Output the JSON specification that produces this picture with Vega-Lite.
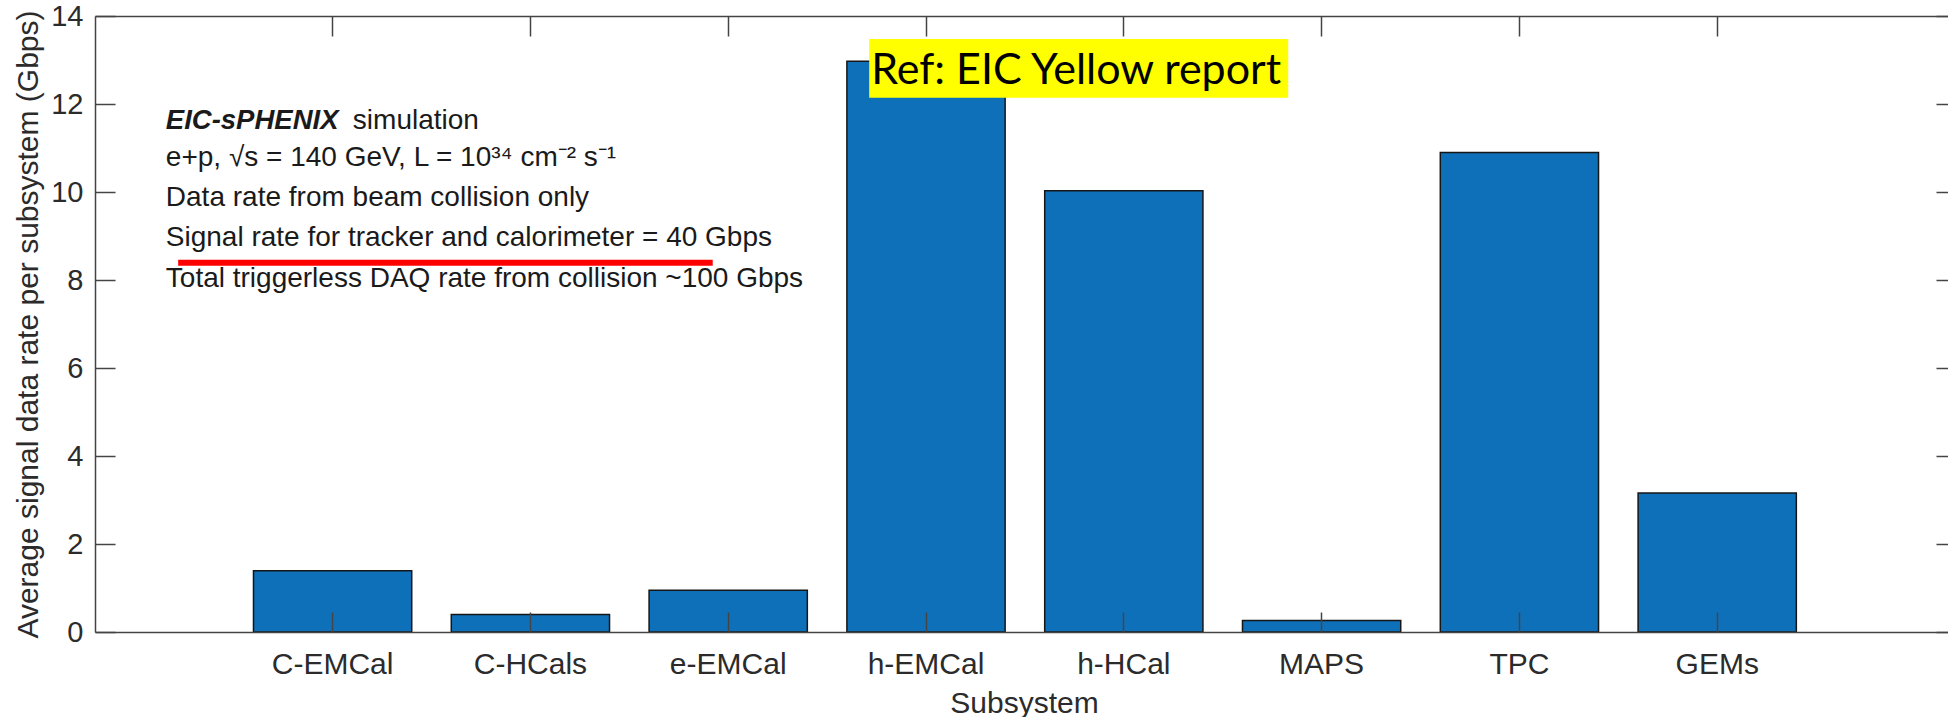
{
  "$schema": "https://vega.github.io/schema/vega-lite/v6.json",
  "width": 1853,
  "height": 616,
  "autosize": {"type": "none"},
  "padding": {"left": 95, "top": 16, "right": 0, "bottom": 85},
  "background": "white",
  "config": {
    "view": {"stroke": null},
    "font": "Liberation Sans",
    "axis": {"grid": false, "labelFont": "Liberation Sans", "titleFont": "Liberation Sans", "labelColor": "#2b2b2b", "titleColor": "#2b2b2b", "titleFontWeight": "normal", "domainColor": "#444444", "domainWidth": 1.5, "tickColor": "#444444", "tickWidth": 1.5}
  },
  "datasets": {
    "rates": [
      {"subsystem": "C-EMCal", "rate": 1.39},
      {"subsystem": "C-HCals", "rate": 0.40},
      {"subsystem": "e-EMCal", "rate": 0.95},
      {"subsystem": "h-EMCal", "rate": 12.97},
      {"subsystem": "h-HCal", "rate": 10.03},
      {"subsystem": "MAPS", "rate": 0.26},
      {"subsystem": "TPC", "rate": 10.9},
      {"subsystem": "GEMs", "rate": 3.16}
    ],
    "notes": [
      {"line": "e+p, √s = 140 GeV, L = 10³⁴ cm⁻² s⁻¹", "y": 10.59},
      {"line": "Data rate from beam collision only", "y": 9.68},
      {"line": "Signal rate for tracker and calorimeter = 40 Gbps", "y": 8.78},
      {"line": "Total triggerless DAQ rate from collision ~100 Gbps", "y": 7.85}
    ]
  },
  "resolve": {"axis": {"x": "independent", "y": "independent"}},
  "layer": [
    {
      "data": {"name": "rates"},
      "mark": {"type": "bar", "color": "#0F70BA", "stroke": "#161616", "strokeWidth": 1.5},
      "encoding": {
        "x": {
          "field": "subsystem", "type": "nominal", "sort": null,
          "scale": {"domain": ["C-EMCal", "C-HCals", "e-EMCal", "h-EMCal", "h-HCal", "MAPS", "TPC", "GEMs"], "paddingInner": 0.2, "paddingOuter": 0.784, "align": 0.511},
          "axis": {"orient": "bottom", "title": "Subsystem", "titleX": 929, "titleY": 80, "titleBaseline": "alphabetic", "titleFontSize": 30, "labelAngle": 0, "labelFontSize": 30, "labelPadding": 37, "tickSize": -20, "zindex": 1}
        },
        "y": {
          "field": "rate", "type": "quantitative",
          "scale": {"domain": [0, 14], "nice": false},
          "axis": {"orient": "left", "title": "Average signal data rate per subsystem (Gbps)", "values": [0, 2, 4, 6, 8, 10, 12, 14], "tickSize": -20, "labelPadding": 32, "labelFontSize": 29, "titleFontSize": 30, "titleX": -58, "titleY": 308, "titleBaseline": "alphabetic", "titleAngle": 270, "zindex": 1}
        }
      }
    },
    {
      "data": {"values": [{"label": "Ref: EIC Yellow report", "top": 13.48, "bottom": 12.14}]},
      "mark": {"type": "rect", "color": "#FFFF00"},
      "encoding": {
        "x": {"datum": "h-EMCal", "type": "nominal", "bandPosition": 0.141,
              "axis": {"orient": "top", "labels": false, "title": null, "tickSize": -20, "zindex": 1}},
        "x2": {"datum": "h-HCal", "bandPosition": 1.539},
        "y": {"field": "top", "type": "quantitative",
              "axis": {"orient": "right", "labels": false, "title": null, "tickSize": -12, "domain": false, "values": [0, 2, 4, 6, 8, 10, 12, 14], "zindex": 1}},
        "y2": {"field": "bottom"}
      }
    },
    {
      "data": {"values": [{"label": "Ref: EIC Yellow report", "y": 12.45}]},
      "mark": {"type": "text", "align": "left", "baseline": "alphabetic", "font": "Lato", "fontSize": 43, "color": "#000000"},
      "encoding": {
        "x": {"datum": "h-EMCal", "type": "nominal", "bandPosition": 0.154, "axis": null},
        "y": {"field": "y", "type": "quantitative", "axis": null},
        "text": {"field": "label"}
      }
    },
    {
      "data": {"values": [{"part": "EIC-sPHENIX", "y": 11.44}]},
      "mark": {"type": "text", "align": "left", "baseline": "alphabetic", "fontSize": 27.5, "fontWeight": "bold", "fontStyle": "italic", "color": "#1a1a1a"},
      "encoding": {
        "x": {"datum": "C-EMCal", "type": "nominal", "bandPosition": -0.554, "axis": null},
        "y": {"field": "y", "type": "quantitative", "axis": null},
        "text": {"field": "part"}
      }
    },
    {
      "data": {"values": [{"part": "simulation", "y": 11.44}]},
      "mark": {"type": "text", "align": "left", "baseline": "alphabetic", "fontSize": 28, "color": "#1a1a1a"},
      "encoding": {
        "x": {"datum": "C-EMCal", "type": "nominal", "bandPosition": 0.628, "axis": null},
        "y": {"field": "y", "type": "quantitative", "axis": null},
        "text": {"field": "part"}
      }
    },
    {
      "data": {"name": "notes"},
      "mark": {"type": "text", "align": "left", "baseline": "alphabetic", "fontSize": 28, "color": "#1a1a1a"},
      "encoding": {
        "x": {"datum": "C-EMCal", "type": "nominal", "bandPosition": -0.554, "axis": null},
        "y": {"field": "y", "type": "quantitative", "axis": null},
        "text": {"field": "line"}
      }
    },
    {
      "data": {"values": [{"y": 8.39}]},
      "mark": {"type": "rule", "color": "#FF0000", "strokeWidth": 6},
      "encoding": {
        "x": {"datum": "C-EMCal", "type": "nominal", "bandPosition": -0.476, "axis": null},
        "x2": {"datum": "e-EMCal", "bandPosition": 0.402},
        "y": {"field": "y", "type": "quantitative", "axis": null}
      }
    }
  ]
}
